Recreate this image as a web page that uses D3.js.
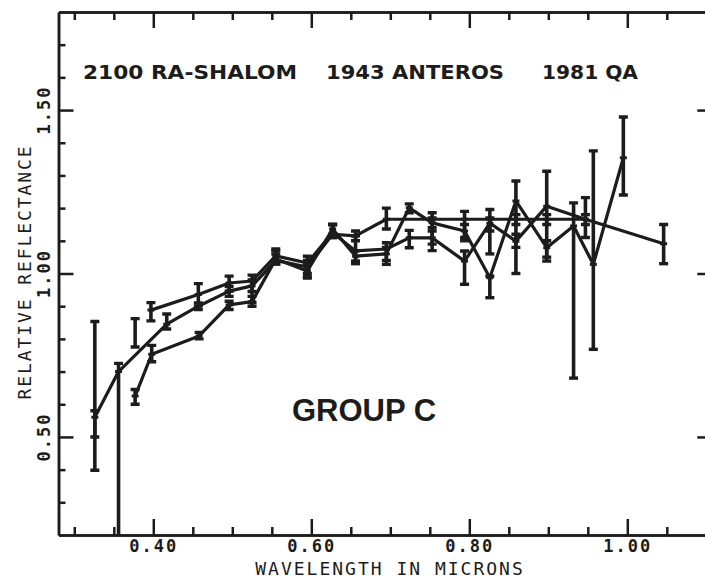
<!DOCTYPE html>
<html>
<head>
<meta charset="utf-8">
<script src="https://cdn.jsdelivr.net/npm/d3@7"></script>
<style>
  body { margin: 0; background: #fff; }
  svg { display: block; }
</style>
</head>
<body>
<div id="chart"></div>
<script>
'use strict';

// spectra (wavelength in microns, relative reflectance, error bar ends)
const waveA = [0.326, 0.356, 0.417, 0.457, 0.496, 0.525, 0.555, 0.595, 0.627, 0.656, 0.695, 0.753, 0.794, 0.826, 0.859, 0.898, 0.947, 1.046];
const valueA = [0.56, 0.70, 0.845, 0.90, 0.946, 0.962, 1.04, 1.02, 1.12, 1.115, 1.166, 1.166, 1.166, 1.166, 1.166, 1.166, 1.166, 1.091];
const lowA = [0.50, 0.15, 0.83, 0.89, 0.93, 0.945, 1.03, 1.00, 1.11, 1.10, 1.136, 1.07, 1.10, 1.06, 1.15, 1.15, 1.11, 1.03];
const highA = [0.58, 0.725, 0.876, 0.91, 0.96, 0.98, 1.07, 1.04, 1.15, 1.13, 1.20, 1.186, 1.19, 1.196, 1.18, 1.18, 1.232, 1.15];

const waveB = [0.397, 0.457, 0.496, 0.525, 0.555, 0.595, 0.627, 0.656, 0.695, 0.724, 0.753, 0.794, 0.826, 0.859, 0.898, 0.947];
const valueB = [0.888, 0.936, 0.971, 0.977, 1.054, 1.032, 1.125, 1.069, 1.075, 1.109, 1.109, 1.038, 1.154, 1.099, 1.206, 1.166];
const lowB = [0.855, 0.901, 0.946, 0.911, 1.029, 0.986, 1.11, 1.038, 1.028, 1.079, 1.09, 0.967, 1.13, 1.08, 1.038, 1.15];
const highB = [0.911, 0.969, 0.992, 0.995, 1.075, 1.053, 1.15, 1.115, 1.094, 1.132, 1.13, 1.069, 1.17, 1.12, 1.313, 1.18];

const waveC = [0.377, 0.398, 0.458, 0.496, 0.525, 0.555, 0.595, 0.627, 0.656, 0.695, 0.724, 0.753, 0.794, 0.826, 0.859, 0.898, 0.932, 0.957, 0.995];
const valueC = [0.625, 0.753, 0.809, 0.904, 0.914, 1.044, 1.008, 1.136, 1.053, 1.06, 1.201, 1.155, 1.13, 0.987, 1.222, 1.079, 1.145, 1.028, 1.354];
const lowC = [0.60, 0.73, 0.80, 0.89, 0.90, 1.03, 0.99, 1.12, 1.03, 1.04, 1.186, 1.14, 1.11, 0.926, 1.0, 1.05, 0.68, 0.768, 1.24];
const highC = [0.645, 0.78, 0.82, 0.915, 0.93, 1.06, 1.03, 1.15, 1.07, 1.08, 1.213, 1.17, 1.15, 0.992, 1.283, 1.10, 1.216, 1.375, 1.479];

// error bars that have no connecting line
const looseWave = [0.326, 0.377];
const looseLow = [0.398, 0.775];
const looseHigh = [0.853, 0.862];

const titleParts = ['2100 RA-SHALOM', '1943 ANTEROS', '1981 QA'];
const xMajorTicks = [0.40, 0.60, 0.80, 1.00];
const xMinorTicks = [0.30, 0.35, 0.45, 0.50, 0.55, 0.65, 0.70, 0.75, 0.85, 0.90, 0.95, 1.05];
const yMajorTicks = [0.50, 1.00, 1.50];
const yMinorTicks = [0.30, 0.40, 0.60, 0.70, 0.80, 0.90, 1.10, 1.20, 1.30, 1.40, 1.60, 1.70];

const ink = '#1c1c1c';
const monoFont = '"DejaVu Sans Mono", "Liberation Mono", monospace';

const width = 705;
const height = 580;
const plot = { left: 58.5, right: 706.3, top: 12, bottom: 535 };

const svg = d3.select('#chart')
    .append('svg')
    .attr('width', width)
    .attr('height', height);

const xScale = d3.scaleLinear()
    .domain([0.28, 1.10])
    .range([plot.left, plot.right]);

const yScale = d3.scaleLinear()
    .domain([0.2, 1.8])
    .range([plot.bottom, plot.top]);

svg.append('defs')
    .append('clipPath')
    .attr('id', 'plot-clip')
    .append('rect')
    .attr('x', plot.left)
    .attr('y', plot.top)
    .attr('width', plot.right - plot.left)
    .attr('height', plot.bottom - plot.top);

// axes, ticks all point inward
function styleAxis(g) {
    g.selectAll('path.domain').attr('stroke', ink).attr('stroke-width', 2.5);
    g.selectAll('.tick line').attr('stroke', ink).attr('stroke-width', 2.5);
    g.selectAll('.tick text')
        .attr('fill', ink)
        .attr('font-family', monoFont)
        .attr('font-weight', 700)
        .attr('font-size', 17)
        .attr('letter-spacing', 2);
}

svg.append('g')
    .attr('transform', `translate(0,${plot.bottom})`)
    .call(d3.axisBottom(xScale).tickValues(xMinorTicks).tickSize(-8).tickSizeOuter(0).tickFormat(''))
    .call(styleAxis);

svg.append('g')
    .attr('transform', `translate(0,${plot.bottom})`)
    .call(d3.axisBottom(xScale).tickValues(xMajorTicks).tickSize(-16).tickSizeOuter(0)
        .tickPadding(5).tickFormat(d3.format('.2f')))
    .call(styleAxis);

svg.append('g')
    .attr('transform', `translate(0,${plot.top})`)
    .call(d3.axisTop(xScale).tickValues(xMinorTicks).tickSize(-8).tickSizeOuter(0).tickFormat(''))
    .call(styleAxis);

svg.append('g')
    .attr('transform', `translate(0,${plot.top})`)
    .call(d3.axisTop(xScale).tickValues(xMajorTicks).tickSize(-16).tickSizeOuter(0).tickFormat(''))
    .call(styleAxis);

svg.append('g')
    .attr('transform', `translate(${plot.left},0)`)
    .call(d3.axisLeft(yScale).tickValues(yMinorTicks).tickSize(-7).tickSizeOuter(0).tickFormat(''))
    .call(styleAxis);

svg.append('g')
    .attr('transform', `translate(${plot.left},0)`)
    .call(d3.axisLeft(yScale).tickValues(yMajorTicks).tickSize(-15).tickSizeOuter(0).tickFormat(''))
    .call(styleAxis);

svg.append('g')
    .attr('transform', `translate(${plot.right},0)`)
    .call(d3.axisRight(yScale).tickValues(yMajorTicks).tickSize(-9).tickSizeOuter(0).tickFormat(''))
    .call(styleAxis);

// rotated y tick labels
svg.append('g')
    .selectAll('text')
    .data(yMajorTicks)
    .join('text')
    .attr('transform', function (d) {
        return `translate(50,${yScale(d)}) rotate(-90)`;
    })
    .attr('text-anchor', 'middle')
    .attr('fill', ink)
    .attr('font-family', monoFont)
    .attr('font-weight', 700)
    .attr('font-size', 17)
    .attr('letter-spacing', 2)
    .text(d3.format('.2f'));

svg.append('text')
    .attr('x', 390)
    .attr('y', 575)
    .attr('text-anchor', 'middle')
    .attr('fill', ink)
    .attr('font-family', monoFont)
    .attr('font-size', 18)
    .attr('letter-spacing', 2)
    .text('WAVELENGTH IN MICRONS');

svg.append('text')
    .attr('transform', 'translate(31,272) rotate(-90)')
    .attr('text-anchor', 'middle')
    .attr('fill', ink)
    .attr('font-family', monoFont)
    .attr('font-size', 18)
    .attr('letter-spacing', 1.9)
    .text('RELATIVE REFLECTANCE');

// title row with the three asteroid names
const titleX = [83, 326, 542];
const titleW = [214, 178, 96];
svg.append('g')
    .selectAll('text')
    .data(titleParts)
    .join('text')
    .attr('x', function (d, i) { return titleX[i]; })
    .attr('y', 79)
    .attr('textLength', function (d, i) { return titleW[i]; })
    .attr('lengthAdjust', 'spacingAndGlyphs')
    .attr('fill', ink)
    .attr('font-family', '"DejaVu Sans", sans-serif')
    .attr('font-weight', 900)
    .attr('font-size', 20)
    .text(function (d) { return d; });

svg.append('text')
    .attr('x', 364)
    .attr('y', 421)
    .attr('text-anchor', 'middle')
    .attr('fill', ink)
    .attr('font-family', '"Liberation Sans", Arial, sans-serif')
    .attr('font-weight', 700)
    .attr('font-size', 31)
    .text('GROUP C');

// build point lists per spectrum
function makeSeries(waves, values, lows, highs) {
    return waves.map(function (w, i) {
        return { wave: w, value: values[i], low: lows[i], high: highs[i] };
    });
}

const spectra = [
    makeSeries(waveA, valueA, lowA, highA),
    makeSeries(waveB, valueB, lowB, highB),
    makeSeries(waveC, valueC, lowC, highC)
];

const loosePoints = looseWave.map(function (w, i) {
    return { wave: w, low: looseLow[i], high: looseHigh[i] };
});

const dataLayer = svg.append('g').attr('clip-path', 'url(#plot-clip)');

const lineGen = d3.line()
    .x(function (d) { return xScale(d.wave); })
    .y(function (d) { return yScale(d.value); });

dataLayer.selectAll('path.spectrum')
    .data(spectra)
    .join('path')
    .attr('class', 'spectrum')
    .attr('fill', 'none')
    .attr('stroke', ink)
    .attr('stroke-width', 3.2)
    .attr('stroke-linejoin', 'round')
    .attr('d', lineGen);

const allBars = spectra.flat().concat(loosePoints);

const bars = dataLayer.selectAll('g.bar')
    .data(allBars)
    .join('g')
    .attr('class', 'bar')
    .attr('stroke', ink);

bars.append('line')
    .attr('x1', function (d) { return xScale(d.wave); })
    .attr('x2', function (d) { return xScale(d.wave); })
    .attr('y1', function (d) { return yScale(d.low); })
    .attr('y2', function (d) { return yScale(d.high); })
    .attr('stroke-width', 3.6);

// caps at both ends of each bar
['low', 'high'].forEach(function (end) {
    bars.append('line')
        .attr('x1', function (d) { return xScale(d.wave) - 4.5; })
        .attr('x2', function (d) { return xScale(d.wave) + 4.5; })
        .attr('y1', function (d) { return yScale(d[end]); })
        .attr('y2', function (d) { return yScale(d[end]); })
        .attr('stroke-width', 3.4);
});

// small mark at the measured value
bars.filter(function (d) { return d.value !== undefined; })
    .append('line')
    .attr('x1', function (d) { return xScale(d.wave) - 3.5; })
    .attr('x2', function (d) { return xScale(d.wave) + 3.5; })
    .attr('y1', function (d) { return yScale(d.value); })
    .attr('y2', function (d) { return yScale(d.value); })
    .attr('stroke-width', 3);
</script>
</body>
</html>
